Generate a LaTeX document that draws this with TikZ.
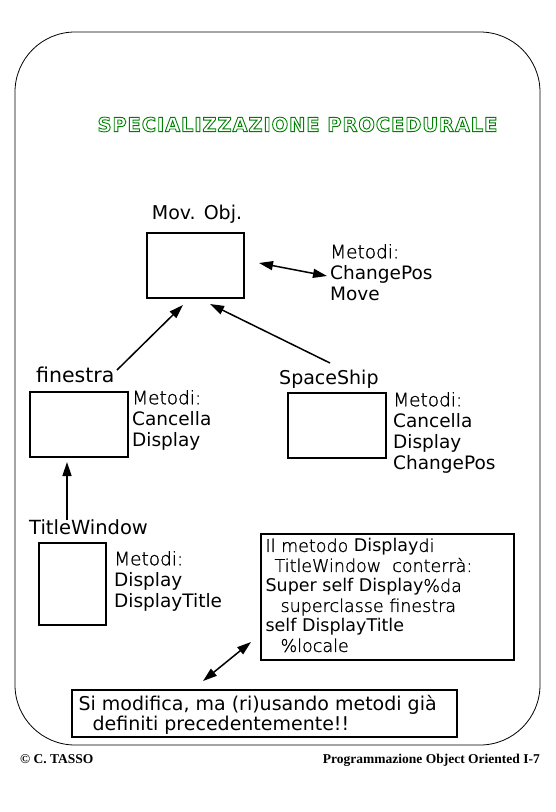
\documentclass[tikz,border=0pt]{standalone}
\usepackage{fontspec}
\setmainfont{DejaVu Sans}
\newfontfamily\thinfont{DejaVu Sans ExtraLight}[FakeBold=1.2]
\newfontfamily\footfont{Liberation Serif}
\newfontfamily\titlefont{DejaVu Sans Bold}[LetterSpace=4.5]
\usetikzlibrary{positioning,arrows.meta}
\newcommand{\lite}[1]{{\thinfont #1}}
\newcommand{\hollow}[1]{\special{pdf:literal direct 0 0.5 0 RG 0.9 w 1 Tr}#1\special{pdf:literal direct 0 Tr}}

\begin{document}
\begin{tikzpicture}[x=1pt,y=-1pt,
    objbox/.style={draw, line width=2pt, inner sep=0pt},
    txtbox/.style={draw, line width=1.2pt, inner sep=0pt},
    lbl/.style={inner sep=0pt, font=\fontsize{19}{21}\selectfont},
    mth/.style={inner sep=0pt, align=left, font=\fontsize{18.5}{21}\selectfont},
    arr/.style={line width=1.5pt, -{Triangle[length=14pt,width=9pt]}},
    darr/.style={line width=1.5pt, {Triangle[length=14pt,width=9pt]}-{Triangle[length=14pt,width=9pt]}}]
        \useasboundingbox (0,0) rectangle (556,812);
        \draw[line width=0.8pt, rounded corners=60pt] (15,32) rectangle (540,745);

        \node[inner sep=0pt, font=\titlefont\fontsize{19.5}{22}\selectfont] (title) at (297.5,124.5)
            {\hollow{SPECIALIZZAZIONE PROCEDURALE}};

        % classes
        \node[lbl, anchor=base] (movlbl) at (197,219) {Mov. Obj.};
        \node[objbox, minimum width=97pt, minimum height=65pt] (movbox) at (195.5,265.5) {};
        \node[mth, anchor=north west] (movmth) at (330,244) {\lite{Metodi:}\\ChangePos\\Move};

        \node[lbl, anchor=base west, font=\fontsize{20.5}{21}\selectfont] (finlbl) at (36,382) {finestra};
        \node[objbox, minimum width=98pt, minimum height=65pt] (finbox) at (79,424.5) {};
        \node[mth, anchor=north west] (finmth) at (132,390) {\lite{Metodi:}\\Cancella\\Display};

        \node[lbl, anchor=base west] (shiplbl) at (279,384) {SpaceShip};
        \node[objbox, minimum width=98pt, minimum height=65pt] (shipbox) at (337,425.5) {};
        \node[mth, anchor=north west] (shipmth) at (393,392) {\lite{Metodi:}\\Cancella\\Display\\ChangePos};

        \node[lbl, anchor=base west, font=\fontsize{19.5}{21}\selectfont] (twlbl) at (29,534) {TitleWindow};
        \node[objbox, minimum width=67pt, minimum height=82pt] (twbox) at (72.5,584) {};
        \node[mth, anchor=north west] (twmth) at (114,551) {\lite{Metodi:}\\Display\\DisplayTitle};

        % notes
        \node[txtbox, minimum width=253pt, minimum height=126pt] (notebox) at (387.5,597) {};
        \node[mth, font=\fontsize{17.5}{20}\selectfont, below right=5pt and 5pt of notebox.north west] (notetxt)
            {\lite{Il metodo }Display\lite{di}\\
             \hspace*{9pt}\lite{TitleWindow\ \ conterrà:}\\
             Super self Display\lite{\%da}\\
             \hspace*{15pt}\lite{superclasse finestra}\\
             self DisplayTitle\\
             \hspace*{15pt}\lite{\%locale}};

        \node[txtbox, minimum width=385pt, minimum height=47pt] (sumbox) at (264.5,713.5) {};
        \node[mth, font=\fontsize{19}{19.5}\selectfont, below right=6pt and 7pt of sumbox.north west] (sumtxt)
            {Si modifica, ma (ri)usando metodi già\\
             \hspace*{14pt}definiti precedentemente!!};

        % arrows
        \coordinate (fintail) at (117,370);
        \coordinate (finhead) at (183,305);
        \coordinate (shiptail) at (330,363);
        \coordinate (shiphead) at (210,304);
        \coordinate (twtail) at (67,520);
        \coordinate (twhead) at (67,462);
        \coordinate (movend) at (259,263);
        \coordinate (mthend) at (327,276);
        \coordinate (sumend) at (203,681);
        \coordinate (noteend) at (251,642);

        \draw[arr] (fintail) -- (finhead);
        \draw[arr] (shiptail) -- (shiphead);
        \draw[arr] (twtail) -- (twhead);
        \draw[darr] (movend) -- (mthend);
        \draw[darr] (sumend) -- (noteend);

        % footer
        \node[inner sep=0pt, anchor=base west, font=\footfont\fontsize{13.5}{15}\selectfont\bfseries] (copy) at (20,763) {© C. TASSO};
        \node[inner sep=0pt, anchor=base east, font=\footfont\fontsize{13.5}{15}\selectfont\bfseries] (course) at (540,763) {Programmazione Object Oriented I-7};
\end{tikzpicture}
\end{document}
